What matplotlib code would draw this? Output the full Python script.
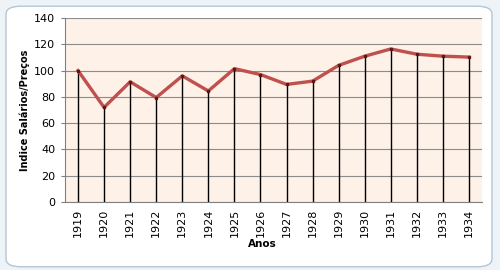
import matplotlib
matplotlib.use("Agg")
import matplotlib.pyplot as plt
from matplotlib.patches import FancyBboxPatch

years = ["1919", "1920", "1921", "1922", "1923", "1924", "1925", "1926",
         "1927", "1928", "1929", "1930", "1931", "1932", "1933", "1934"]
values = [100, 72, 91.5, 79.5, 96, 84.5, 101.5, 97, 89.5, 92, 104, 111, 116.5, 112.5, 111, 110.3]
yticks = [0, 20, 40, 60, 80, 100, 120, 140]

fig = plt.figure(figsize=(5, 2.7), dpi=100)
fig.patch.set_facecolor("#eef3f8")
frame = FancyBboxPatch((0.012, 0.012), 0.972, 0.965, boxstyle="round,pad=0,rounding_size=0.03",
                       transform=fig.transFigure, facecolor="white", edgecolor="#b4c6d6", lw=1.0,
                       zorder=-10)
fig.patches.append(frame)

ax = fig.add_axes([0.13, 0.252, 0.834, 0.681])
ax.set_facecolor("#fdf1e8")
x = list(range(len(years)))
ax.vlines(x, 0, values, colors="black", lw=1.0, zorder=2)
ax.plot(x, values, color="#c0504d", lw=2.4, zorder=3, solid_joinstyle="round")
ax.plot(x, values, linestyle="none", marker="s", ms=2, color="#5a1a18", zorder=4)

ax.set_xlim(-0.5, len(years) - 0.5)
ax.set_ylim(0, 140)
ax.set_yticks(yticks)
ax.set_xticks(x)
ax.set_xticklabels(years, rotation=90, fontsize=8, family="DejaVu Sans")
ax.tick_params(axis="y", labelsize=8, length=3, color="#808080", pad=4)
ax.tick_params(axis="x", length=0, pad=5)
ax.grid(axis="y", color="#8c8c8c", lw=0.8)
ax.set_axisbelow(True)
for s in ["top", "right"]:
    ax.spines[s].set_visible(False)
ax.spines["left"].set_color("#808080")
ax.spines["bottom"].set_color("#808080")

ax.set_ylabel("Indice Salários/Preços", fontsize=7, fontweight="bold", labelpad=3)
fig.text(0.524, 0.098, "Anos", fontsize=7.5, fontweight="bold", ha="center", va="center")

fig.savefig("out.png", dpi=100, facecolor=fig.get_facecolor())
